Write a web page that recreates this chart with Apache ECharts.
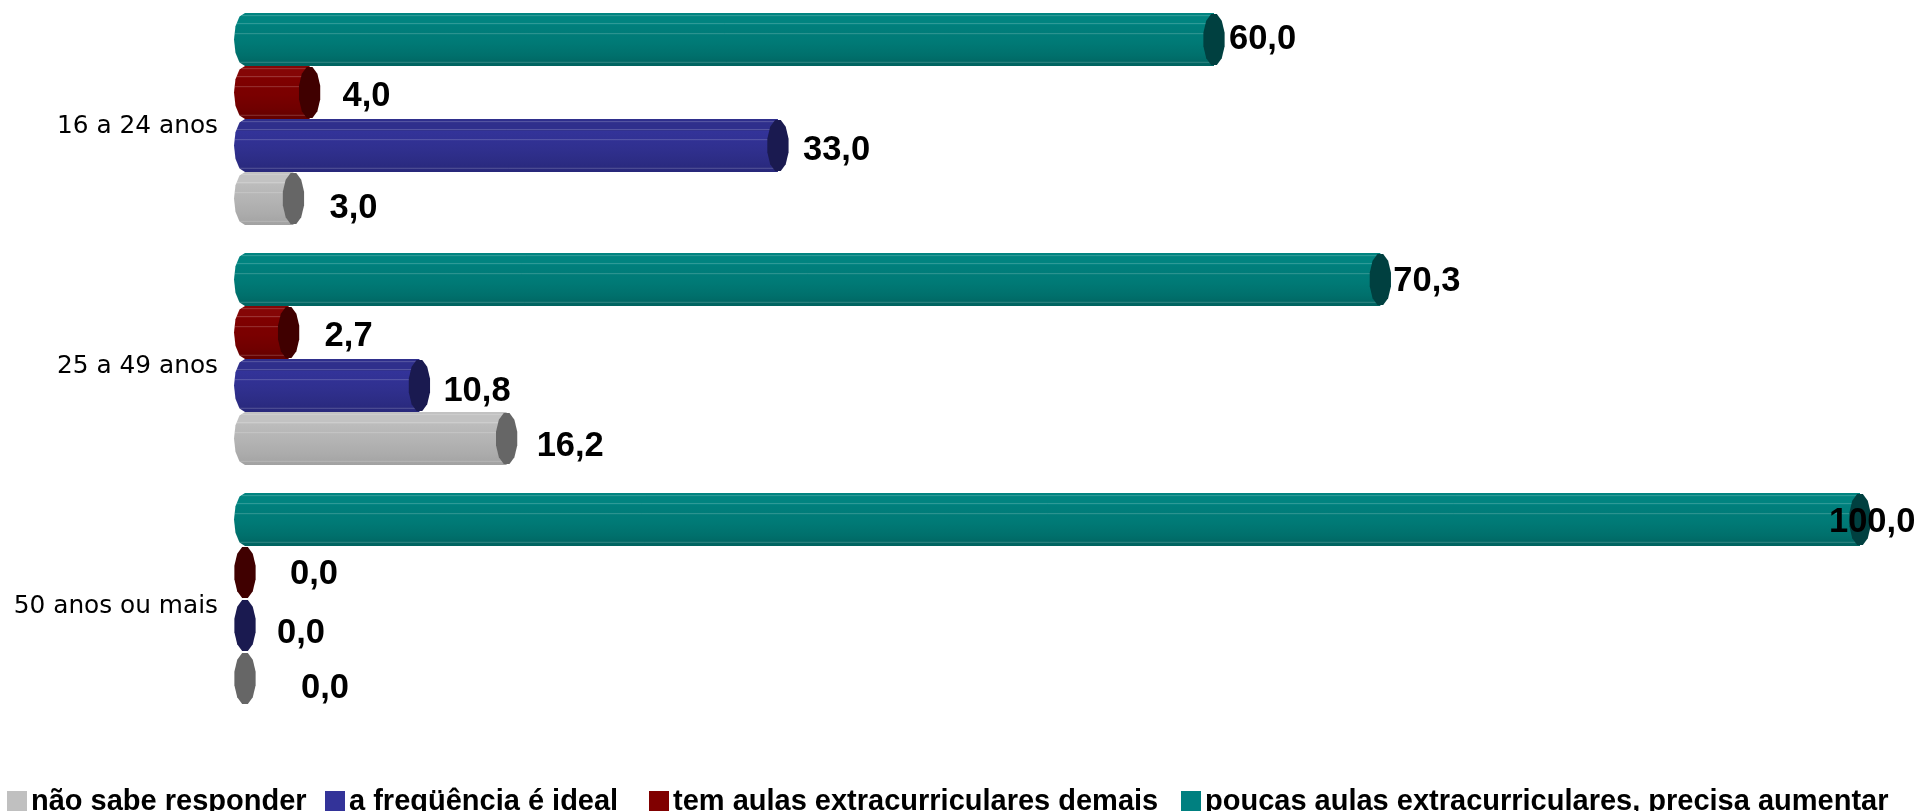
<!DOCTYPE html>
<html><head><meta charset="utf-8">
<style>html,body{margin:0;padding:0;background:#fff}#c{width:1919px;height:811px}</style>
<script src="https://cdn.jsdelivr.net/npm/echarts@6/dist/echarts.min.js"></script>
</head><body><div id="c"></div>
<script>
const categories = ['16 a 24 anos', '25 a 49 anos', '50 anos ou mais'];
const seriesNames = ['poucas aulas extracurriculares, precisa aumentar', 'tem aulas extracurriculares demais', 'a freqüência é ideal', 'não sabe responder'];
const poucasAulas = [60.0, 70.3, 100.0];
const aulasDemais = [4.0, 2.7, 0.0];
const frequenciaIdeal = [33.0, 10.8, 0.0];
const naoSabe = [3.0, 16.2, 0.0];
const legendOrder = ['não sabe responder', 'a freqüência é ideal', 'tem aulas extracurriculares demais', 'poucas aulas extracurriculares, precisa aumentar'];

// Styling only
const palettes = [
  {base:'#008080', stops:['#018480','#007f7c','#007a76','#00706c','#006360'], cap:'#004040'},
  {base:'#800000', stops:['#850606','#800000','#7a0000','#700000','#620000'], cap:'#400000'},
  {base:'#333399', stops:['#2f2f8c','#333399','#30308f','#2c2c84','#28287a'], cap:'#1a1a50'},
  {base:'#c0c0c0', stops:['#c2c2c2','#bcbcbc','#b3b3b3','#ababab','#a2a2a2'], cap:'#666666'}
];
// pixel nudges of value labels from the bar end, by series then category
const labelDx = [[15,13,-31],[33,36,45],[25,24,32],[36,30,56]];
const labelDy = [[-2,0,1],[2,2,0],[3,4,6],[8,6,8]];
const legendLefts = [7, 325, 649, 1181];

const BAR_H = 53, RX = 11, GROUP_SHIFT = -8;

function cap(cx, cy, rx, ry, from, to, n) {
  const pts = [];
  for (let i = 0; i <= n; i++) {
    const a = from + (to - from) * i / n;
    pts.push([cx + rx * Math.cos(a), cy + ry * Math.sin(a)]);
  }
  return pts;
}
function makeRender(si) {
  const pal = palettes[si];
  return function (params, api) {
    const ci = api.value(1);
    const val = api.value(0);
    const base = api.coord([0, ci]);
    const end = api.coord([val, ci]);
    const cy = base[1] + (si - 1.5) * BAR_H + GROUP_SHIFT;
    const ry = BAR_H / 2, x0 = base[0], x1 = end[0];
    const children = [];
    if (val > 0) {
      const left = cap(x0, cy, RX, ry, -Math.PI / 2, -3 * Math.PI / 2, 6);
      const poly = [[x1, cy - ry]].concat(left, [[x1, cy + ry]]);
      const s = pal.stops;
      children.push({
        type: 'polygon', shape: {points: poly},
        style: {fill: new echarts.graphic.LinearGradient(0, 0, 0, 1, [
          {offset: 0, color: s[0]}, {offset: .22, color: s[0]},
          {offset: .23, color: s[1]}, {offset: .55, color: s[2]},
          {offset: .8, color: s[3]}, {offset: 1, color: s[4]}
        ])}
      });
      [.05, .2, .39, .93].forEach(function (f, k) {
        const y = cy - ry + f * BAR_H;
        const inset = k === 0 ? 8 : (k === 3 ? 5 : 1);
        children.push({type: 'line',
          shape: {x1: x0 - RX + inset, y1: y, x2: x1, y2: y},
          style: {stroke: 'rgba(255,255,255,0.2)', lineWidth: 1}});
      });
    }
    children.push({type: 'polygon',
      shape: {points: cap(x1, cy, RX, ry, Math.PI / 12, 2 * Math.PI + Math.PI / 12, 12)},
      style: {fill: pal.cap}});
    children.push({type: 'text', z2: 10,
      style: {
        x: x1 + labelDx[si][ci], y: cy + labelDy[si][ci] + 2,
        text: val.toFixed(1).replace('.', ','),
        fill: '#000', font: 'bold 34.5px "Liberation Sans", Arial, sans-serif',
        textAlign: 'left', textVerticalAlign: 'middle'
      }});
    return {type: 'group', children: children};
  };
}
const seriesData = [poucasAulas, aulasDemais, frequenciaIdeal, naoSabe];
const chart = echarts.init(document.getElementById('c'));
chart.setOption({
  animation: false,
  backgroundColor: '#fff',
  grid: {left: 245, width: 1615, top: 7, height: 720, containLabel: false},
  xAxis: {type: 'value', min: 0, max: 100, show: false},
  yAxis: {type: 'category', data: categories, inverse: true,
    axisLine: {show: false}, axisTick: {show: false}, splitLine: {show: false},
    axisLabel: {color: '#000', fontSize: 24.8, fontFamily: '"DejaVu Sans", Verdana, sans-serif', margin: 27}},
  legend: legendOrder.map(function (name, i) {
    return {show: true, data: [name], left: legendLefts[i], top: 787, orient: 'horizontal', itemWidth: 20, itemHeight: 21, icon: 'rect', padding: 0,
      selectedMode: false,
      textStyle: {color: '#000', fontWeight: 'bold', fontSize: 29, fontFamily: '"Liberation Sans", Arial, sans-serif', padding: [0, 0, 0, -1]}};
  }),
  series: seriesNames.map(function (name, si) {
    return {type: 'custom', name: name, coordinateSystem: 'cartesian2d',
      itemStyle: {color: palettes[si].base},
      encode: {x: 0, y: 1},
      data: seriesData[si].map(function (v, ci) { return [v, ci]; }),
      renderItem: makeRender(si)};
  })
});
</script></body></html>
